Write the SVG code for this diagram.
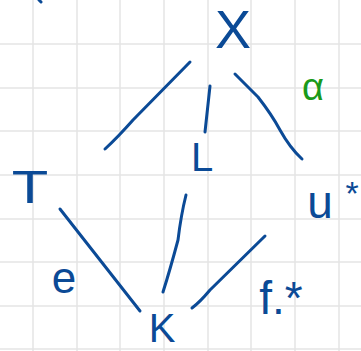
<svg xmlns="http://www.w3.org/2000/svg" width="361" height="351" viewBox="0 0 361 351">
<style>
.grid line{stroke:#e4e4e4;stroke-width:1.5}
.edge{fill:none;stroke:#0b4a96;stroke-width:3;stroke-linecap:round;stroke-linejoin:round}
.lbl{font-family:"Liberation Sans","DejaVu Sans",sans-serif;fill:#0b4a96;text-anchor:middle}
.green{fill:#1a9a1a}
</style>
<rect width="361" height="351" fill="#ffffff"/>
<g class="grid">
<line x1="33" y1="0" x2="33" y2="351"/><line x1="77" y1="0" x2="77" y2="351"/><line x1="120" y1="0" x2="120" y2="351"/><line x1="164" y1="0" x2="164" y2="351"/><line x1="208" y1="0" x2="208" y2="351"/><line x1="251" y1="0" x2="251" y2="351"/><line x1="295" y1="0" x2="295" y2="351"/><line x1="339" y1="0" x2="339" y2="351"/>
<line x1="0" y1="44" x2="361" y2="44"/><line x1="0" y1="88" x2="361" y2="88"/><line x1="0" y1="131" x2="361" y2="131"/><line x1="0" y1="175" x2="361" y2="175"/><line x1="0" y1="219" x2="361" y2="219"/><line x1="0" y1="262" x2="361" y2="262"/><line x1="0" y1="306" x2="361" y2="306"/><line x1="0" y1="349" x2="361" y2="349"/>
</g>
<path class="edge" d="M39,0 L41,2"/>
<g id="connectors">
<path class="edge" d="M190,62 L133,120 Q118,137 105,149"/>
<path class="edge" d="M210,86 L205,132"/>
<path class="edge" d="M235,74 L258,97 Q272,115 280,130 Q290,148 302,159"/>
<path class="edge" d="M60,209 L140,311"/>
<path class="edge" d="M186,195 Q181,215 178,240 Q170,270 163,292"/>
<path class="edge" d="M265,236 L210,290 Q200,302 192,308"/>
</g>
<g id="node-X"><text class="lbl" x="233" y="48" font-size="54">X</text></g>
<g id="node-L"><text class="lbl" x="202" y="171" font-size="40">L</text></g>
<g id="node-T"><text class="lbl" x="30" y="203" font-size="46" transform="translate(30 0) scale(1.3 1) translate(-30 0)">T</text></g>
<g id="node-U"><text class="lbl" x="320" y="218" font-size="46">u</text><text class="lbl" x="352" y="205" font-size="34">*</text></g>
<g id="node-K"><text class="lbl" x="162" y="342" font-size="40">K</text></g>
<text class="lbl green" x="313" y="100" font-size="38">α</text>
<text class="lbl" x="64" y="293" font-size="44">e</text>
<text class="lbl" x="281" y="314" font-size="46">f.*</text>
</svg>
